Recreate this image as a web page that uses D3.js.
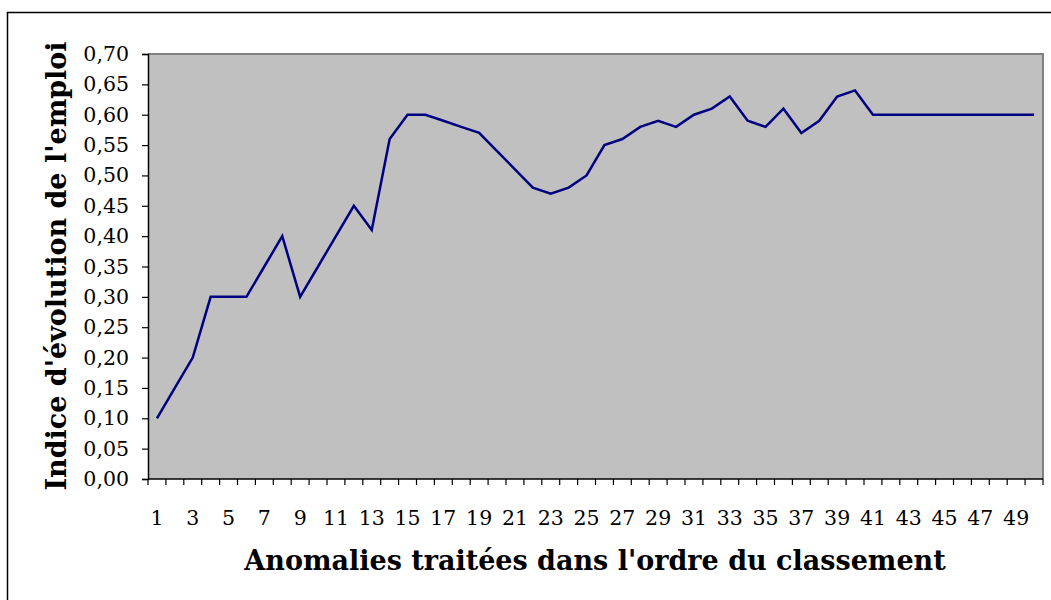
<!DOCTYPE html>
<html><head><meta charset="utf-8">
<script src="https://cdn.jsdelivr.net/npm/d3@7"></script>
<style>body{margin:0;background:#fff}svg{display:block}</style>
</head><body>
<svg id="c" width="1051" height="600"></svg>
<script>
const categories = d3.range(1, 51);
const values = [0.10,0.15,0.20,0.30,0.30,0.30,0.35,0.40,0.30,0.35,
                0.40,0.45,0.41,0.56,0.60,0.60,0.59,0.58,0.57,0.54,
                0.51,0.48,0.47,0.48,0.50,0.55,0.56,0.58,0.59,0.58,
                0.60,0.61,0.63,0.59,0.58,0.61,0.57,0.59,0.63,0.64,
                0.60,0.60,0.60,0.60,0.60,0.60,0.60,0.60,0.60,0.60];
const yTicks = [0,0.05,0.10,0.15,0.20,0.25,0.30,0.35,0.40,0.45,0.50,0.55,0.60,0.65,0.70];
const xTickLabels = categories.filter(d => d % 2 === 1);
const xTitle = "Anomalies traitées dans l'ordre du classement";
const yTitle = "Indice d'évolution de l'emploi";

const svg = d3.select("#c");
const L = 148, T = 54, R = 1043, B = 479;
const font = "'DejaVu Serif', serif";

// outer frame
svg.append("rect").attr("x",7.5).attr("y",12.5).attr("width",1200).attr("height",800)
  .attr("fill","none").attr("stroke","#000").attr("stroke-width",1.5);

const x = d3.scaleBand().domain(categories).range([L, R]).padding(0);
const y = d3.scaleLinear().domain([0, 0.70]).range([B, T]);

// plot area
svg.append("rect").attr("x",L).attr("y",T).attr("width",R-L).attr("height",B-T)
  .attr("fill","#c0c0c0");
svg.append("path").attr("d",`M${L},${T}H${R}V${B}`).attr("fill","none")
  .attr("stroke","#808080").attr("stroke-width",2);

// y axis
const yAxis = d3.axisLeft(y).tickValues(yTicks).tickSize(6).tickPadding(13)
  .tickFormat(d => d3.format(".2f")(d).replace(".", ","));
const gy = svg.append("g").attr("transform",`translate(${L},0)`).call(yAxis);
gy.select(".domain").attr("stroke","#000").attr("stroke-width",1.5);
gy.selectAll(".tick line").attr("stroke","#000").attr("stroke-width",1.2);
gy.selectAll("text").attr("font-family",font).attr("font-size",20.5).attr("fill","#000");

// x axis: ticks at category boundaries
svg.append("line").attr("x1",L).attr("x2",R).attr("y1",B).attr("y2",B)
  .attr("stroke","#000").attr("stroke-width",1.5);
const bounds = categories.map(c => x(c)).concat([R]);
svg.append("g").selectAll("line").data(bounds).join("line")
  .attr("x1",d=>d).attr("x2",d=>d).attr("y1",B).attr("y2",B+6)
  .attr("stroke","#000").attr("stroke-width",1.2);
svg.append("g").selectAll("text").data(xTickLabels).join("text")
  .attr("x", d => x(d) + x.bandwidth()/2).attr("y", 525)
  .attr("text-anchor","middle").attr("font-family",font).attr("font-size",20.5)
  .text(d => d);

// line
const line = d3.line().x((d,i) => x(categories[i]) + x.bandwidth()/2).y(d => y(d));
svg.append("path").datum(values).attr("d", line).attr("fill","none")
  .attr("stroke","#000080").attr("stroke-width",2.5).attr("stroke-linejoin","miter");

// titles
svg.append("text").attr("x",595).attr("y",570).attr("text-anchor","middle")
  .attr("font-family",font).attr("font-weight","bold").attr("font-size",27).text(xTitle);
svg.append("text").attr("transform","translate(66,266) rotate(-90)").attr("text-anchor","middle")
  .attr("font-family",font).attr("font-weight","bold").attr("font-size",27).text(yTitle);
</script>
</body></html>
